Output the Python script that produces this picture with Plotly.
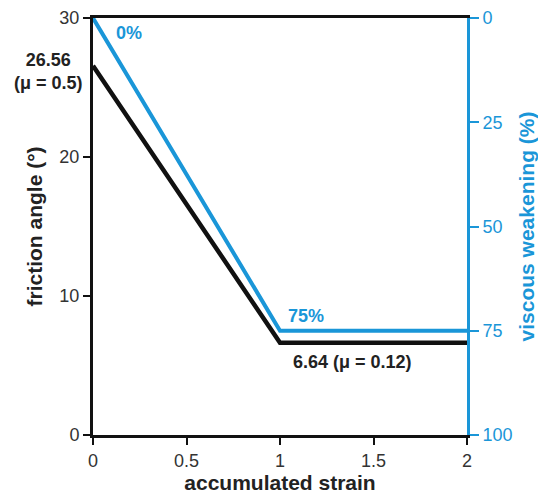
import plotly.graph_objects as go

strain = [0, 1, 2]
friction_angle = [26.56, 6.64, 6.64]
viscous_weakening = [0, 75, 75]
x_ticks = [0, 0.5, 1, 1.5, 2]
x_tick_labels = ["0", "0.5", "1", "1.5", "2"]
y_ticks = [0, 10, 20, 30]
y2_ticks = [0, 25, 50, 75, 100]

BLUE = "#1a96d8"
FONT = "Liberation Sans, Arial, sans-serif"

fig = go.Figure()
fig.add_trace(go.Scatter(x=strain, y=friction_angle, mode="lines",
                         line=dict(color="#111111", width=4.5), showlegend=False, cliponaxis=False))
fig.add_trace(go.Scatter(x=strain, y=viscous_weakening, mode="lines", yaxis="y2",
                         line=dict(color=BLUE, width=4), showlegend=False, cliponaxis=False))

fig.update_layout(
    width=546, height=497,
    margin=dict(l=85, r=87, t=10, b=70, autoexpand=False),
    paper_bgcolor="white", plot_bgcolor="white",
    font=dict(family=FONT, size=18, color="#333333"),
    xaxis=dict(range=[0, 2], tickvals=x_ticks, ticktext=x_tick_labels,
               showgrid=False, zeroline=False, showline=True, linecolor="#111111", linewidth=3,
               mirror=True, ticks="outside", ticklen=7, tickwidth=2, tickcolor="#111111",
               tickfont=dict(size=18, color="#333333"),
               title=dict(text="<b>accumulated strain</b>", font=dict(size=21, color="#222222"), standoff=2)),
    yaxis=dict(range=[0, 30], tickvals=y_ticks,
               showgrid=False, zeroline=False, showline=True, linecolor="#111111", linewidth=3,
               ticks="outside", ticklen=7, tickwidth=2, tickcolor="#111111",
               tickfont=dict(size=18, color="#333333"),
               title=dict(text="<b>friction angle (°)</b>", font=dict(size=21, color="#222222"), standoff=12)),
    yaxis2=dict(range=[100, 0], tickvals=y2_ticks, overlaying="y", side="right",
                showgrid=False, zeroline=False, showline=True, linecolor=BLUE, linewidth=3,
                ticks="outside", ticklen=9, tickwidth=2, tickcolor=BLUE,
                tickfont=dict(color=BLUE, size=18),
                title=dict(text="<b>viscous weakening (%)</b>", font=dict(size=21, color=BLUE), standoff=8)),
)

fig.add_annotation(x=0.11, y=0, xref="x", yref="y2", text="<b>0%</b>", showarrow=False,
                   font=dict(color=BLUE, size=18), xanchor="left", yanchor="top", yshift=-3)
fig.add_annotation(x=1.03, y=75, xref="x", yref="y2", text="<b>75%</b>", showarrow=False,
                   font=dict(color=BLUE, size=18), xanchor="left", yanchor="bottom", yshift=3)
fig.add_annotation(x=1.0, y=6.64, xref="x", yref="y", text="<b>6.64 (μ = 0.12)</b>", showarrow=False,
                   font=dict(color="#222222", size=18), xanchor="left", yanchor="top", yshift=-7, xshift=11)
fig.add_annotation(x=0, y=26.56, xref="x", yref="y", text="<b>26.56<br>(μ = 0.5)</b>", showarrow=False,
                   font=dict(color="#222222", size=18), xanchor="right", yanchor="middle", xshift=-8, yshift=-6)

fig.write_html("out.html")
